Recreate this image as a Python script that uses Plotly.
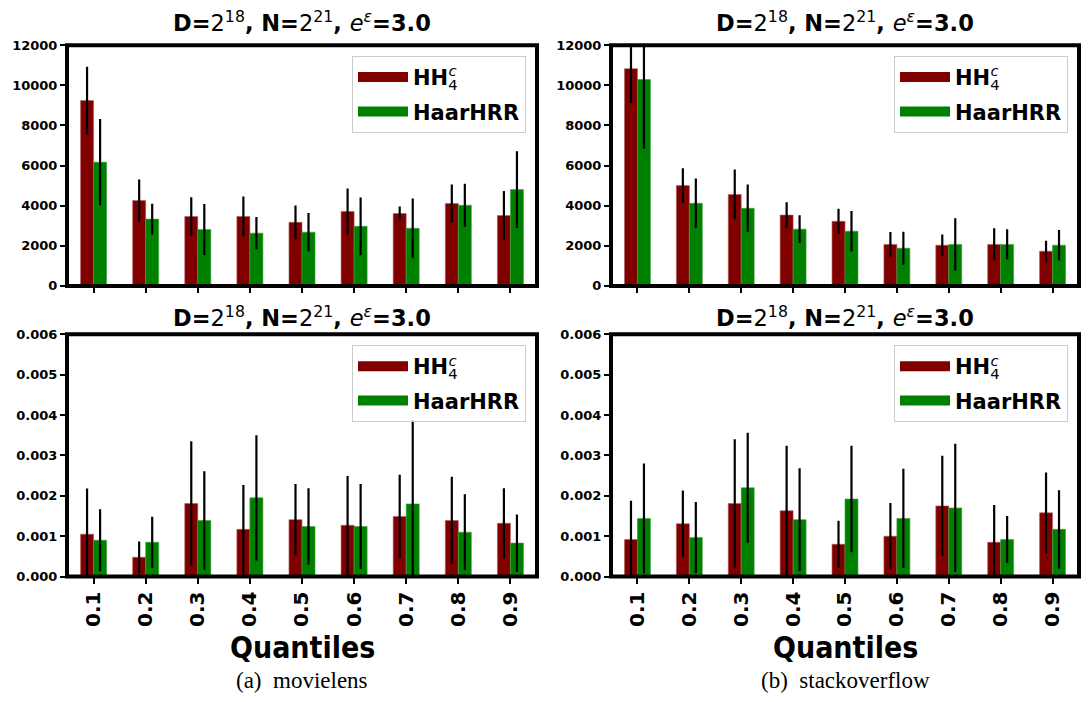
import plotly.graph_objects as go

# ---------------- data ----------------
quantiles = ["0.1", "0.2", "0.3", "0.4", "0.5", "0.6", "0.7", "0.8", "0.9"]
series_names = ["HH4c", "HaarHRR"]

# movielens, top row (absolute error)
ml_top_hh = [9240, 4260, 3460, 3460, 3170, 3710, 3610, 4110, 3510]
ml_top_hh_err = [1690, 1045, 955, 1000, 840, 1140, 345, 950, 1225]
ml_top_haar = [6170, 3330, 2810, 2630, 2680, 2970, 2870, 4020, 4800]
ml_top_haar_err = [2155, 770, 1275, 800, 950, 1440, 1490, 1070, 1910]

# stackoverflow, top row
so_top_hh = [10830, 5000, 4560, 3530, 3220, 2070, 2030, 2070, 1730]
so_top_hh_err = [1715, 860, 1240, 640, 630, 620, 530, 800, 520]
so_top_haar = [10290, 4120, 3870, 2830, 2730, 1880, 2070, 2070, 2030]
so_top_haar_err = [3450, 1230, 1185, 690, 1000, 825, 1300, 750, 760]

# movielens, bottom row (relative error)
ml_bot_hh = [0.00105, 0.00048, 0.00181, 0.00117, 0.00141, 0.00127, 0.00149, 0.00139, 0.00132]
ml_bot_hh_err = [0.00113, 0.00039, 0.00154, 0.00110, 0.00088, 0.00122, 0.00103, 0.00108, 0.00087]
ml_bot_haar = [0.00090, 0.00085, 0.00139, 0.00195, 0.00124, 0.00124, 0.00180, 0.00110, 0.00083]
ml_bot_haar_err = [0.00077, 0.00063, 0.00122, 0.00155, 0.00095, 0.00105, 0.00208, 0.00094, 0.00071]

# stackoverflow, bottom row
so_bot_hh = [0.00092, 0.00131, 0.00181, 0.00163, 0.00080, 0.00100, 0.00175, 0.00085, 0.00158]
so_bot_hh_err = [0.00096, 0.00082, 0.00159, 0.00161, 0.00058, 0.00082, 0.00124, 0.00092, 0.00100]
so_bot_haar = [0.00144, 0.00097, 0.00220, 0.00141, 0.00192, 0.00144, 0.00170, 0.00092, 0.00117]
so_bot_haar_err = [0.00136, 0.00088, 0.00136, 0.00127, 0.00132, 0.00123, 0.00159, 0.00058, 0.00097]

top_ticks = [0, 2000, 4000, 6000, 8000, 10000, 12000]
bot_ticks = [0, 0.001, 0.002, 0.003, 0.004, 0.005, 0.006]

# ---------------- layout geometry ----------------
W, H = 1088, 702
RED = "#800000"
GREEN = "#008000"
FONT = "DejaVu Sans"

x_dom = {"L": [67 / W, 537 / W], "R": [611 / W, 1079 / W]}
y_dom = {"T": [1 - 285 / H, 1 - 39 / H], "B": [1 - 582 / H, 1 - 334.5 / H]}

panels = [
    # (axis suffix, col, row, hh, hh_err, haar, haar_err, legend id)
    ("", "L", "T", ml_top_hh, ml_top_hh_err, ml_top_haar, ml_top_haar_err, "legend"),
    ("2", "R", "T", so_top_hh, so_top_hh_err, so_top_haar, so_top_haar_err, "legend2"),
    ("3", "L", "B", ml_bot_hh, ml_bot_hh_err, ml_bot_haar, ml_bot_haar_err, "legend3"),
    ("4", "R", "B", so_bot_hh, so_bot_hh_err, so_bot_haar, so_bot_haar_err, "legend4"),
]

hh_label = ("HH<sub style='font-weight:normal;letter-spacing:-9px'>4</sub>"
            "<sup style='font-weight:normal'><i>c</i></sup>")
haar_label = "HaarHRR"

title_text = ("<b>D=</b>2<sup>18</sup><b>, N=</b>2<sup>21</sup><b>, </b>"
              "<i>e</i><sup><i>ε</i></sup><b>=3.0</b>")

fig = go.Figure()
layout = dict(
    width=W, height=H, autosize=False,
    margin=dict(l=0, r=0, t=0, b=0),
    plot_bgcolor="white", paper_bgcolor="white",
    barmode="group", bargap=0.5, bargroupgap=0,
    showlegend=True,
    font=dict(family=FONT, color="black"),
)
shapes = []
annotations = []

for suf, col, row, hh, hh_e, haar, haar_e, leg in panels:
    xa, ya = "x" + suf, "y" + suf
    err_style = dict(type="data", visible=True, color="black", thickness=2.2, width=0)
    fig.add_trace(go.Bar(
        x=quantiles, y=hh, name=hh_label, marker=dict(color=RED, line=dict(color="#b06060", width=0.6)),
        error_y=dict(array=hh_e, **err_style), xaxis=xa, yaxis=ya,
        offsetgroup="a", showlegend=False,
    ))
    fig.add_trace(go.Bar(
        x=quantiles, y=haar, name=haar_label, marker=dict(color=GREEN, line=dict(color="#40a040", width=0.6)),
        error_y=dict(array=haar_e, **err_style), xaxis=xa, yaxis=ya,
        offsetgroup="b", showlegend=False,
    ))
    # legend entries (wide swatches)
    fig.add_trace(go.Scatter(
        x=[None], y=[None], mode="lines", line=dict(color=RED, width=15),
        name=hh_label, legend=leg, legendgroup=leg + "a", xaxis=xa, yaxis=ya,
    ))
    fig.add_trace(go.Scatter(
        x=[None], y=[None], mode="lines", line=dict(color=GREEN, width=15),
        name=haar_label, legend=leg, legendgroup=leg + "b", xaxis=xa, yaxis=ya,
    ))

    is_top = row == "T"
    xkey = "xaxis" + suf
    ykey = "yaxis" + suf
    layout[xkey] = dict(
        domain=x_dom[col], anchor=ya, type="category", range=[-0.51, 8.51],
        showgrid=False, zeroline=False, showline=False,
        ticks="outside", ticklen=6, tickwidth=1.5, tickcolor="black",
        showticklabels=not is_top, tickangle=-90,
        tickfont=dict(family=FONT, size=20, weight="bold", color="black"),
    )
    layout[ykey] = dict(
        domain=y_dom[row], anchor=xa,
        range=[0, 12000] if is_top else [0, 0.006],
        tickvals=top_ticks if is_top else bot_ticks,
        tickformat="d" if is_top else ".3f",
        showgrid=False, zeroline=False, showline=False,
        ticks="outside", ticklen=6, tickwidth=1.5, tickcolor="black",
        tickfont=dict(family=FONT, size=13, weight="bold", color="black"),
    )
    layout[leg] = dict(
        x=x_dom[col][1] - 11 / W, y=y_dom[row][1] - 11 / H,
        xanchor="right", yanchor="top", xref="paper", yref="paper",
        bgcolor="rgba(255,255,255,0.8)", bordercolor="#cccccc", borderwidth=1,
        font=dict(family=FONT, size=21, weight="bold", color="black"),
        tracegroupgap=4, itemwidth=50, traceorder="grouped",
    )
    # frame
    shapes.append(dict(
        type="rect", xref=xa + " domain", yref=ya + " domain", x0=0, x1=1, y0=0, y1=1,
        line=dict(color="black", width=4), layer="above",
    ))
    # panel title
    cx = (x_dom[col][0] + x_dom[col][1]) / 2
    ty = 1 - (15 / H) if is_top else 1 - (316 / H)
    annotations.append(dict(
        text=title_text, x=cx, y=ty, xref="paper", yref="paper",
        xanchor="center", yanchor="middle", showarrow=False,
        font=dict(family=FONT, size=22.5, color="black"),
    ))

for col, cap in [("L", "(a)  movielens"), ("R", "(b)  stackoverflow")]:
    cx = (x_dom[col][0] + x_dom[col][1]) / 2
    annotations.append(dict(
        text="<b>Quantiles</b>", x=cx, y=1 - 654 / H, xref="paper", yref="paper",
        xanchor="center", yanchor="middle", showarrow=False,
        font=dict(family="DejaVu Sans Condensed, DejaVu Sans", size=30, color="black"),
    ))
    annotations.append(dict(
        text=cap, x=cx, y=1 - 688 / H, xref="paper", yref="paper",
        xanchor="center", yanchor="middle", showarrow=False,
        font=dict(family="Liberation Serif", size=23, color="black"),
    ))

layout["shapes"] = shapes
layout["annotations"] = annotations
fig.update_layout(**layout)
fig.write_html("out.html")
